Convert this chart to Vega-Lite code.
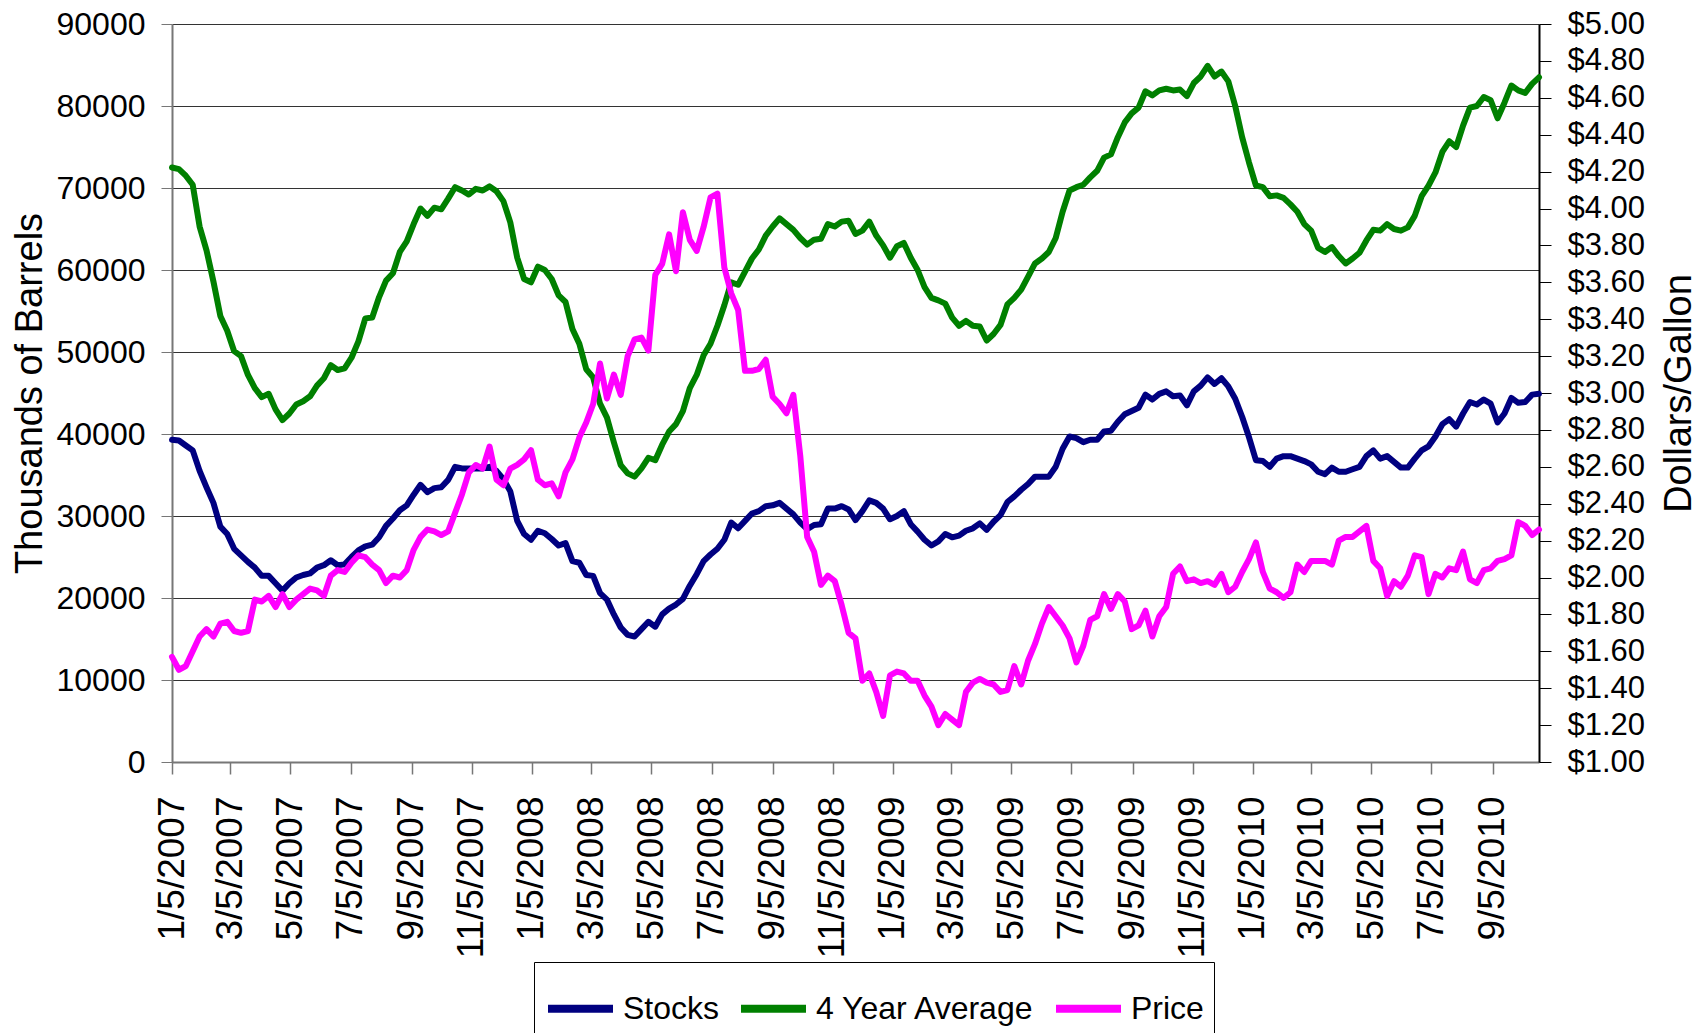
{
"$schema":"https://vega.github.io/schema/vega-lite/v6.json",
"width":1367,"height":738,
"autosize":{"type":"none"},
"padding":{"left":172,"top":24,"right":165,"bottom":271},
"background":"white",
"config":{"view":{"stroke":null}},
"data":{"values":[
{"date":"2007-01-05","Stocks":39300,"4 Year Average":72500,"Price":1.57},
{"date":"2007-01-12","Stocks":39200,"4 Year Average":72300,"Price":1.50},
{"date":"2007-01-19","Stocks":38600,"4 Year Average":71500,"Price":1.52},
{"date":"2007-01-26","Stocks":38000,"4 Year Average":70400,"Price":1.60},
{"date":"2007-02-02","Stocks":35500,"4 Year Average":65300,"Price":1.68},
{"date":"2007-02-09","Stocks":33500,"4 Year Average":62400,"Price":1.72},
{"date":"2007-02-16","Stocks":31600,"4 Year Average":58600,"Price":1.68},
{"date":"2007-02-23","Stocks":28700,"4 Year Average":54400,"Price":1.75},
{"date":"2007-03-02","Stocks":27800,"4 Year Average":52600,"Price":1.76},
{"date":"2007-03-09","Stocks":26000,"4 Year Average":50100,"Price":1.71},
{"date":"2007-03-16","Stocks":25200,"4 Year Average":49500,"Price":1.70},
{"date":"2007-03-23","Stocks":24400,"4 Year Average":47200,"Price":1.71},
{"date":"2007-03-30","Stocks":23700,"4 Year Average":45600,"Price":1.88},
{"date":"2007-04-06","Stocks":22700,"4 Year Average":44500,"Price":1.87},
{"date":"2007-04-13","Stocks":22700,"4 Year Average":44900,"Price":1.90},
{"date":"2007-04-20","Stocks":21800,"4 Year Average":43000,"Price":1.84},
{"date":"2007-04-27","Stocks":20900,"4 Year Average":41700,"Price":1.91},
{"date":"2007-05-04","Stocks":21800,"4 Year Average":42500,"Price":1.84},
{"date":"2007-05-11","Stocks":22500,"4 Year Average":43600,"Price":1.88},
{"date":"2007-05-18","Stocks":22800,"4 Year Average":44000,"Price":1.91},
{"date":"2007-05-25","Stocks":23000,"4 Year Average":44600,"Price":1.94},
{"date":"2007-06-01","Stocks":23700,"4 Year Average":45900,"Price":1.93},
{"date":"2007-06-08","Stocks":24000,"4 Year Average":46800,"Price":1.90},
{"date":"2007-06-15","Stocks":24600,"4 Year Average":48400,"Price":2.01},
{"date":"2007-06-22","Stocks":24000,"4 Year Average":47800,"Price":2.04},
{"date":"2007-06-29","Stocks":24100,"4 Year Average":48000,"Price":2.03},
{"date":"2007-07-06","Stocks":25000,"4 Year Average":49300,"Price":2.08},
{"date":"2007-07-13","Stocks":25800,"4 Year Average":51300,"Price":2.12},
{"date":"2007-07-20","Stocks":26300,"4 Year Average":54100,"Price":2.11},
{"date":"2007-07-27","Stocks":26500,"4 Year Average":54200,"Price":2.07},
{"date":"2007-08-03","Stocks":27400,"4 Year Average":56700,"Price":2.04},
{"date":"2007-08-10","Stocks":28800,"4 Year Average":58700,"Price":1.97},
{"date":"2007-08-17","Stocks":29700,"4 Year Average":59600,"Price":2.01},
{"date":"2007-08-24","Stocks":30700,"4 Year Average":62200,"Price":2.00},
{"date":"2007-08-31","Stocks":31300,"4 Year Average":63500,"Price":2.04},
{"date":"2007-09-07","Stocks":32600,"4 Year Average":65600,"Price":2.15},
{"date":"2007-09-14","Stocks":33800,"4 Year Average":67500,"Price":2.22},
{"date":"2007-09-21","Stocks":32900,"4 Year Average":66600,"Price":2.26},
{"date":"2007-09-28","Stocks":33400,"4 Year Average":67600,"Price":2.25},
{"date":"2007-10-05","Stocks":33500,"4 Year Average":67400,"Price":2.23},
{"date":"2007-10-12","Stocks":34400,"4 Year Average":68700,"Price":2.25},
{"date":"2007-10-19","Stocks":36000,"4 Year Average":70100,"Price":2.35},
{"date":"2007-10-26","Stocks":35800,"4 Year Average":69700,"Price":2.45},
{"date":"2007-11-02","Stocks":35800,"4 Year Average":69200,"Price":2.57},
{"date":"2007-11-09","Stocks":35800,"4 Year Average":69900,"Price":2.61},
{"date":"2007-11-16","Stocks":35800,"4 Year Average":69700,"Price":2.59},
{"date":"2007-11-23","Stocks":36000,"4 Year Average":70200,"Price":2.71},
{"date":"2007-11-30","Stocks":35500,"4 Year Average":69600,"Price":2.53},
{"date":"2007-12-07","Stocks":34500,"4 Year Average":68400,"Price":2.50},
{"date":"2007-12-14","Stocks":33000,"4 Year Average":65800,"Price":2.59},
{"date":"2007-12-21","Stocks":29400,"4 Year Average":61500,"Price":2.61},
{"date":"2007-12-28","Stocks":27800,"4 Year Average":58900,"Price":2.64},
{"date":"2008-01-04","Stocks":27100,"4 Year Average":58500,"Price":2.69},
{"date":"2008-01-11","Stocks":28200,"4 Year Average":60400,"Price":2.53},
{"date":"2008-01-18","Stocks":27900,"4 Year Average":60000,"Price":2.50},
{"date":"2008-01-25","Stocks":27200,"4 Year Average":58900,"Price":2.51},
{"date":"2008-02-01","Stocks":26400,"4 Year Average":56900,"Price":2.44},
{"date":"2008-02-08","Stocks":26700,"4 Year Average":56100,"Price":2.57},
{"date":"2008-02-15","Stocks":24500,"4 Year Average":52800,"Price":2.64},
{"date":"2008-02-22","Stocks":24300,"4 Year Average":51000,"Price":2.76},
{"date":"2008-02-29","Stocks":22800,"4 Year Average":47900,"Price":2.84},
{"date":"2008-03-07","Stocks":22700,"4 Year Average":46900,"Price":2.94},
{"date":"2008-03-14","Stocks":20600,"4 Year Average":43700,"Price":3.16},
{"date":"2008-03-21","Stocks":19800,"4 Year Average":42000,"Price":2.97},
{"date":"2008-03-28","Stocks":18000,"4 Year Average":39000,"Price":3.10},
{"date":"2008-04-04","Stocks":16400,"4 Year Average":36200,"Price":2.99},
{"date":"2008-04-11","Stocks":15500,"4 Year Average":35200,"Price":3.20},
{"date":"2008-04-18","Stocks":15300,"4 Year Average":34800,"Price":3.29},
{"date":"2008-04-25","Stocks":16200,"4 Year Average":35800,"Price":3.30},
{"date":"2008-05-02","Stocks":17100,"4 Year Average":37100,"Price":3.23},
{"date":"2008-05-09","Stocks":16500,"4 Year Average":36800,"Price":3.64},
{"date":"2008-05-16","Stocks":18000,"4 Year Average":38700,"Price":3.70},
{"date":"2008-05-23","Stocks":18700,"4 Year Average":40300,"Price":3.86},
{"date":"2008-05-30","Stocks":19200,"4 Year Average":41200,"Price":3.66},
{"date":"2008-06-06","Stocks":19900,"4 Year Average":42800,"Price":3.98},
{"date":"2008-06-13","Stocks":21500,"4 Year Average":45600,"Price":3.83},
{"date":"2008-06-20","Stocks":22900,"4 Year Average":47200,"Price":3.77},
{"date":"2008-06-27","Stocks":24500,"4 Year Average":49600,"Price":3.90},
{"date":"2008-07-04","Stocks":25300,"4 Year Average":51000,"Price":4.06},
{"date":"2008-07-11","Stocks":26000,"4 Year Average":53200,"Price":4.08},
{"date":"2008-07-18","Stocks":27100,"4 Year Average":55700,"Price":3.68},
{"date":"2008-07-25","Stocks":29200,"4 Year Average":58500,"Price":3.54},
{"date":"2008-08-01","Stocks":28500,"4 Year Average":58200,"Price":3.45},
{"date":"2008-08-08","Stocks":29400,"4 Year Average":59800,"Price":3.12},
{"date":"2008-08-15","Stocks":30300,"4 Year Average":61400,"Price":3.12},
{"date":"2008-08-22","Stocks":30600,"4 Year Average":62500,"Price":3.13},
{"date":"2008-08-29","Stocks":31200,"4 Year Average":64200,"Price":3.18},
{"date":"2008-09-05","Stocks":31300,"4 Year Average":65300,"Price":2.98},
{"date":"2008-09-12","Stocks":31600,"4 Year Average":66300,"Price":2.94},
{"date":"2008-09-19","Stocks":30900,"4 Year Average":65600,"Price":2.89},
{"date":"2008-09-26","Stocks":30200,"4 Year Average":64900,"Price":2.99},
{"date":"2008-10-03","Stocks":29200,"4 Year Average":63900,"Price":2.66},
{"date":"2008-10-10","Stocks":28400,"4 Year Average":63100,"Price":2.22},
{"date":"2008-10-17","Stocks":28900,"4 Year Average":63700,"Price":2.14},
{"date":"2008-10-24","Stocks":29000,"4 Year Average":63800,"Price":1.96},
{"date":"2008-10-31","Stocks":30900,"4 Year Average":65600,"Price":2.01},
{"date":"2008-11-07","Stocks":30900,"4 Year Average":65300,"Price":1.98},
{"date":"2008-11-14","Stocks":31200,"4 Year Average":65900,"Price":1.85},
{"date":"2008-11-21","Stocks":30800,"4 Year Average":66000,"Price":1.70},
{"date":"2008-11-28","Stocks":29500,"4 Year Average":64400,"Price":1.67},
{"date":"2008-12-05","Stocks":30600,"4 Year Average":64800,"Price":1.44},
{"date":"2008-12-12","Stocks":31900,"4 Year Average":65900,"Price":1.48},
{"date":"2008-12-19","Stocks":31600,"4 Year Average":64200,"Price":1.38},
{"date":"2008-12-26","Stocks":30900,"4 Year Average":63000,"Price":1.25},
{"date":"2009-01-02","Stocks":29600,"4 Year Average":61500,"Price":1.47},
{"date":"2009-01-09","Stocks":30000,"4 Year Average":62900,"Price":1.49},
{"date":"2009-01-16","Stocks":30600,"4 Year Average":63300,"Price":1.48},
{"date":"2009-01-23","Stocks":29000,"4 Year Average":61500,"Price":1.44},
{"date":"2009-01-30","Stocks":28100,"4 Year Average":60000,"Price":1.44},
{"date":"2009-02-06","Stocks":27100,"4 Year Average":57900,"Price":1.36},
{"date":"2009-02-13","Stocks":26400,"4 Year Average":56600,"Price":1.30},
{"date":"2009-02-20","Stocks":26900,"4 Year Average":56300,"Price":1.20},
{"date":"2009-02-27","Stocks":27800,"4 Year Average":55900,"Price":1.26},
{"date":"2009-03-06","Stocks":27400,"4 Year Average":54200,"Price":1.23},
{"date":"2009-03-13","Stocks":27600,"4 Year Average":53200,"Price":1.20},
{"date":"2009-03-20","Stocks":28200,"4 Year Average":53800,"Price":1.38},
{"date":"2009-03-27","Stocks":28500,"4 Year Average":53200,"Price":1.43},
{"date":"2009-04-03","Stocks":29100,"4 Year Average":53100,"Price":1.45},
{"date":"2009-04-10","Stocks":28300,"4 Year Average":51400,"Price":1.43},
{"date":"2009-04-17","Stocks":29300,"4 Year Average":52200,"Price":1.42},
{"date":"2009-04-24","Stocks":30100,"4 Year Average":53300,"Price":1.38},
{"date":"2009-05-01","Stocks":31700,"4 Year Average":55800,"Price":1.39},
{"date":"2009-05-08","Stocks":32400,"4 Year Average":56600,"Price":1.52},
{"date":"2009-05-15","Stocks":33200,"4 Year Average":57600,"Price":1.42},
{"date":"2009-05-22","Stocks":33900,"4 Year Average":59200,"Price":1.55},
{"date":"2009-05-29","Stocks":34800,"4 Year Average":60800,"Price":1.64},
{"date":"2009-06-05","Stocks":34800,"4 Year Average":61400,"Price":1.75},
{"date":"2009-06-12","Stocks":34800,"4 Year Average":62200,"Price":1.84},
{"date":"2009-06-19","Stocks":36000,"4 Year Average":63900,"Price":1.79},
{"date":"2009-06-26","Stocks":38200,"4 Year Average":67100,"Price":1.74},
{"date":"2009-07-03","Stocks":39700,"4 Year Average":69700,"Price":1.67},
{"date":"2009-07-10","Stocks":39500,"4 Year Average":70100,"Price":1.54},
{"date":"2009-07-17","Stocks":39000,"4 Year Average":70400,"Price":1.63},
{"date":"2009-07-24","Stocks":39300,"4 Year Average":71300,"Price":1.77},
{"date":"2009-07-31","Stocks":39300,"4 Year Average":72100,"Price":1.79},
{"date":"2009-08-07","Stocks":40300,"4 Year Average":73700,"Price":1.91},
{"date":"2009-08-14","Stocks":40400,"4 Year Average":74100,"Price":1.83},
{"date":"2009-08-21","Stocks":41500,"4 Year Average":76200,"Price":1.91},
{"date":"2009-08-28","Stocks":42400,"4 Year Average":78000,"Price":1.87},
{"date":"2009-09-04","Stocks":42800,"4 Year Average":79100,"Price":1.72},
{"date":"2009-09-11","Stocks":43200,"4 Year Average":79800,"Price":1.74},
{"date":"2009-09-18","Stocks":44800,"4 Year Average":81800,"Price":1.82},
{"date":"2009-09-25","Stocks":44200,"4 Year Average":81300,"Price":1.68},
{"date":"2009-10-02","Stocks":44900,"4 Year Average":81900,"Price":1.79},
{"date":"2009-10-09","Stocks":45200,"4 Year Average":82100,"Price":1.84},
{"date":"2009-10-16","Stocks":44600,"4 Year Average":81900,"Price":2.02},
{"date":"2009-10-23","Stocks":44700,"4 Year Average":82000,"Price":2.06},
{"date":"2009-10-30","Stocks":43500,"4 Year Average":81200,"Price":1.98},
{"date":"2009-11-06","Stocks":45200,"4 Year Average":82800,"Price":1.99},
{"date":"2009-11-13","Stocks":45900,"4 Year Average":83600,"Price":1.97},
{"date":"2009-11-20","Stocks":46900,"4 Year Average":84900,"Price":1.98},
{"date":"2009-11-27","Stocks":46100,"4 Year Average":83600,"Price":1.96},
{"date":"2009-12-04","Stocks":46800,"4 Year Average":84200,"Price":2.02},
{"date":"2009-12-11","Stocks":45800,"4 Year Average":83000,"Price":1.92},
{"date":"2009-12-18","Stocks":44300,"4 Year Average":80000,"Price":1.95},
{"date":"2009-12-25","Stocks":42100,"4 Year Average":76200,"Price":2.03},
{"date":"2010-01-01","Stocks":39600,"4 Year Average":73100,"Price":2.10},
{"date":"2010-01-08","Stocks":36800,"4 Year Average":70300,"Price":2.19},
{"date":"2010-01-15","Stocks":36700,"4 Year Average":70100,"Price":2.03},
{"date":"2010-01-22","Stocks":36000,"4 Year Average":69000,"Price":1.94},
{"date":"2010-01-29","Stocks":37000,"4 Year Average":69100,"Price":1.92},
{"date":"2010-02-05","Stocks":37300,"4 Year Average":68800,"Price":1.89},
{"date":"2010-02-12","Stocks":37300,"4 Year Average":68000,"Price":1.92},
{"date":"2010-02-19","Stocks":37000,"4 Year Average":67100,"Price":2.07},
{"date":"2010-02-26","Stocks":36700,"4 Year Average":65600,"Price":2.03},
{"date":"2010-03-05","Stocks":36300,"4 Year Average":64800,"Price":2.09},
{"date":"2010-03-12","Stocks":35400,"4 Year Average":62700,"Price":2.09},
{"date":"2010-03-19","Stocks":35100,"4 Year Average":62200,"Price":2.09},
{"date":"2010-03-26","Stocks":35900,"4 Year Average":62800,"Price":2.07},
{"date":"2010-04-02","Stocks":35400,"4 Year Average":61700,"Price":2.20},
{"date":"2010-04-09","Stocks":35400,"4 Year Average":60800,"Price":2.22},
{"date":"2010-04-16","Stocks":35700,"4 Year Average":61400,"Price":2.22},
{"date":"2010-04-23","Stocks":36000,"4 Year Average":62100,"Price":2.25},
{"date":"2010-04-30","Stocks":37300,"4 Year Average":63600,"Price":2.28},
{"date":"2010-05-07","Stocks":38000,"4 Year Average":64900,"Price":2.09},
{"date":"2010-05-14","Stocks":37000,"4 Year Average":64800,"Price":2.05},
{"date":"2010-05-21","Stocks":37300,"4 Year Average":65600,"Price":1.90},
{"date":"2010-05-28","Stocks":36600,"4 Year Average":65000,"Price":1.98},
{"date":"2010-06-04","Stocks":35900,"4 Year Average":64800,"Price":1.95},
{"date":"2010-06-11","Stocks":35900,"4 Year Average":65200,"Price":2.01},
{"date":"2010-06-18","Stocks":37000,"4 Year Average":66600,"Price":2.12},
{"date":"2010-06-25","Stocks":38000,"4 Year Average":69000,"Price":2.11},
{"date":"2010-07-02","Stocks":38500,"4 Year Average":70300,"Price":1.91},
{"date":"2010-07-09","Stocks":39700,"4 Year Average":71900,"Price":2.02},
{"date":"2010-07-16","Stocks":41200,"4 Year Average":74400,"Price":2.00},
{"date":"2010-07-23","Stocks":41800,"4 Year Average":75700,"Price":2.05},
{"date":"2010-07-30","Stocks":40900,"4 Year Average":75000,"Price":2.04},
{"date":"2010-08-06","Stocks":42500,"4 Year Average":77600,"Price":2.14},
{"date":"2010-08-13","Stocks":43900,"4 Year Average":79800,"Price":1.99},
{"date":"2010-08-20","Stocks":43600,"4 Year Average":80000,"Price":1.97},
{"date":"2010-08-27","Stocks":44200,"4 Year Average":81100,"Price":2.04},
{"date":"2010-09-03","Stocks":43700,"4 Year Average":80700,"Price":2.05},
{"date":"2010-09-10","Stocks":41400,"4 Year Average":78500,"Price":2.09},
{"date":"2010-09-17","Stocks":42500,"4 Year Average":80400,"Price":2.10},
{"date":"2010-09-24","Stocks":44400,"4 Year Average":82500,"Price":2.12},
{"date":"2010-10-01","Stocks":43800,"4 Year Average":81900,"Price":2.30},
{"date":"2010-10-08","Stocks":43900,"4 Year Average":81600,"Price":2.28},
{"date":"2010-10-15","Stocks":44800,"4 Year Average":82700,"Price":2.23},
{"date":"2010-10-22","Stocks":44900,"4 Year Average":83500,"Price":2.26}
]},
"encoding":{
 "x":{"field":"date","type":"temporal",
  "scale":{"type":"utc","domain":[{"year":2007,"month":1,"date":5,"utc":true},{"year":2010,"month":10,"date":22,"utc":true}],"nice":false},
  "axis":{"title":null,"format":"%-m/%-d/%Y","labelAngle":270,"labelFont":"Liberation Sans","labelFontSize":37,"labelColor":"#000","labelPadding":22,"tickSize":12,"tickColor":"#777","tickWidth":1.5,"domainColor":"#777","domainWidth":2,"grid":false,"labelOverlap":false,"labelFlush":false,"labelBound":false,
   "values":[
    {"year":2007,"month":1,"date":5,"utc":true},{"year":2007,"month":3,"date":5,"utc":true},{"year":2007,"month":5,"date":5,"utc":true},{"year":2007,"month":7,"date":5,"utc":true},{"year":2007,"month":9,"date":5,"utc":true},{"year":2007,"month":11,"date":5,"utc":true},
    {"year":2008,"month":1,"date":5,"utc":true},{"year":2008,"month":3,"date":5,"utc":true},{"year":2008,"month":5,"date":5,"utc":true},{"year":2008,"month":7,"date":5,"utc":true},{"year":2008,"month":9,"date":5,"utc":true},{"year":2008,"month":11,"date":5,"utc":true},
    {"year":2009,"month":1,"date":5,"utc":true},{"year":2009,"month":3,"date":5,"utc":true},{"year":2009,"month":5,"date":5,"utc":true},{"year":2009,"month":7,"date":5,"utc":true},{"year":2009,"month":9,"date":5,"utc":true},{"year":2009,"month":11,"date":5,"utc":true},
    {"year":2010,"month":1,"date":5,"utc":true},{"year":2010,"month":3,"date":5,"utc":true},{"year":2010,"month":5,"date":5,"utc":true},{"year":2010,"month":7,"date":5,"utc":true},{"year":2010,"month":9,"date":5,"utc":true}]}}
},
"layer":[
 {"transform":[{"fold":["Stocks","4 Year Average"],"as":["series","value"]}],
  "mark":{"type":"line","strokeWidth":6,"strokeJoin":"round","strokeCap":"round"},
  "encoding":{
   "y":{"field":"value","type":"quantitative","scale":{"domain":[0,90000],"nice":false,"zero":true},
    "axis":{"title":"Thousands of Barrels","values":[0,10000,20000,30000,40000,50000,60000,70000,80000,90000],"format":"d","labelFont":"Liberation Sans","labelFontSize":32,"labelColor":"#000","labelPadding":16,"tickSize":11,"tickColor":"#777","domainColor":"#777","domainWidth":2,"grid":true,"gridColor":"#333","gridWidth":1,"labelFlush":false,"labelOverlap":false,"titleFont":"Liberation Sans","titleFontSize":38,"titleFontWeight":"normal","titleColor":"#000","titleAngle":270,"titleX":-142,"titleY":369,"titleAlign":"center","titleBaseline":"middle"}},
   "color":{"field":"series","type":"nominal",
    "scale":{"domain":["Stocks","4 Year Average","Price"],"range":["#000080","#008000","#FF00FF"]},
    "legend":{"title":null,"orient":"none","direction":"horizontal","legendX":362,"legendY":938,"symbolType":"stroke","symbolStrokeWidth":8,"symbolSize":4225,"labelFont":"Liberation Sans","labelFontSize":32,"labelColor":"#000","labelLimit":500,"strokeColor":"#000","fillColor":"#fff","padding":10,"columnPadding":5,"labelOffset":6}}
  }},
 {"mark":{"type":"line","strokeWidth":6,"strokeJoin":"round","strokeCap":"round"},
  "encoding":{
   "y":{"field":"Price","type":"quantitative","scale":{"domain":[1,5],"nice":false,"zero":false},
    "axis":{"orient":"right","title":"Dollars/Gallon","values":[1,1.2,1.4,1.6,1.8,2,2.2,2.4,2.6,2.8,3,3.2,3.4,3.6,3.8,4,4.2,4.4,4.6,4.8,5],"format":"$.2f","labelFont":"Liberation Sans","labelFontSize":31,"labelColor":"#000","labelPadding":16,"tickSize":12,"tickColor":"#000","domainColor":"#000","domainWidth":2,"grid":false,"labelFlush":false,"labelOverlap":false,"titleFont":"Liberation Sans","titleFontSize":38,"titleFontWeight":"normal","titleColor":"#000","titleAngle":270,"titleX":140,"titleY":369,"titleAlign":"center","titleBaseline":"middle"}},
   "color":{"datum":"Price","type":"nominal"}
  }}
],
"resolve":{"scale":{"y":"independent"}}
}
